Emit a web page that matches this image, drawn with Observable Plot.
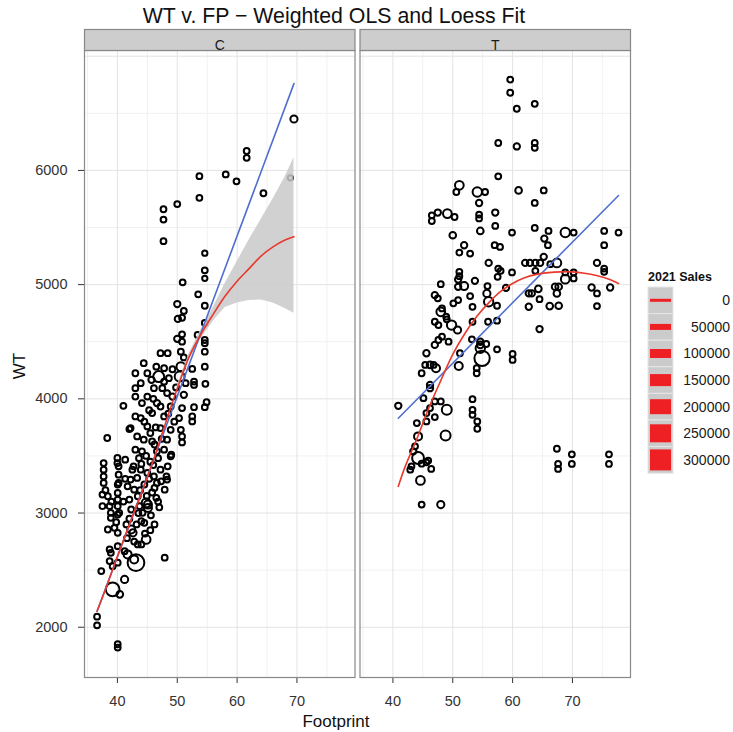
<!DOCTYPE html>
<html><head><meta charset="utf-8">
<script src="https://cdn.jsdelivr.net/npm/d3@7"></script>
<script src="https://cdn.jsdelivr.net/npm/@observablehq/plot@0.6"></script>
<style>
body{margin:0;background:#fff;font-family:"Liberation Sans",Arial,sans-serif;}
#wrap{position:relative;width:733px;height:732px;overflow:hidden;}
#wrap>svg{position:absolute;left:0;top:0;}
</style></head><body><div id="wrap"></div>
<script>
// ---------- data ----------
const panels = ["C", "T"];
const xTicks = [40, 50, 60, 70];
const yTicks = [2000, 3000, 4000, 5000, 6000];
const xMinor = [35, 45, 55, 65, 75];
const yMajorGrid = [2000, 3000, 4000, 5000, 6000, 7000];
const yMinorGrid = [2500, 3500, 4500, 5500, 6500];
const salesBreaks = [0, 50000, 100000, 150000, 200000, 250000, 300000];

// [Footprint, WT, 2021 Sales]
const cPoints = [
[69.5,6450,20000],[61.6,6170,8000],[61.6,6110,8000],[53.7,5950,8000],[58.1,5965,8000],[59.9,5905,8000],
[68.9,5935,5000],[64.4,5800,8000],[50.0,5705,8000],[53.7,5760,8000],[47.7,5660,8000],[47.7,5570,8000],
[47.7,5380,8000],[54.6,5275,5000],[54.6,5125,8000],[54.6,5055,5000],[50.9,5020,8000],[53.5,4915,8000],
[50.0,4830,12000],[51.1,4770,8000],[54.6,4815,8000],[50.8,4710,8000],[50.1,4700,12000],[54.6,4665,8000],
[50.8,4565,8000],[53.4,4560,8000],[50.0,4525,12000],[54.6,4515,8000],[54.6,4487,8000],[50.8,4500,8000],
[54.6,4413,8000],[47.2,4400,8000],[48.4,4400,8000],[50.6,4413,8000],[51.1,4363,8000],[44.4,4312,8000],
[54.6,4282,8000],[46.5,4282,8000],[47.8,4268,8000],[49.2,4259,8000],[50.6,4282,40000],[52.5,4262,8000],
[43.0,4224,8000],[45.0,4224,8000],[46.9,4195,80000],[50.4,4195,60000],[48.6,4181,8000],[45.7,4166,12000],
[51.4,4137,8000],[52.8,4151,8000],[52.8,4122,8000],[54.7,4131,8000],[43.0,4093,8000],[43.9,4137,8000],
[46.1,4093,8000],[47.5,4093,8000],[45.0,4020,8000],[48.3,4050,8000],[49.2,4020,12000],[51.1,4035,12000],
[43.0,4020,8000],[41.0,3939,8000],[44.1,3963,8000],[46.6,3963,12000],[47.2,3933,8000],[48.9,3933,8000],
[50.8,3919,8000],[52.8,3927,8000],[54.6,3927,8000],[54.9,3971,8000],[43.0,3846,8000],[43.9,3832,8000],
[45.8,3875,8000],[47.8,3846,8000],[50.3,3832,8000],[52.5,3846,8000],[52.5,3802,8000],[42.2,3744,8000],
[45.0,3758,8000],[47.2,3744,8000],[48.9,3729,8000],[50.6,3729,8000],[50.8,3671,8000],[50.8,3618,8000],
[38.3,3657,8000],[43.3,3671,8000],[44.4,3642,8000],[45.8,3627,8000],[48.3,3642,8000],[43.0,3555,8000],
[44.1,3540,8000],[46.6,3540,8000],[47.8,3555,8000],[48.9,3497,8000],[40.0,3482,8000],[41.3,3467,8000],
[37.7,3438,8000],[37.7,3380,8000],[37.7,3321,8000],[37.7,3264,8000],[40.2,3409,8000],[40.2,3336,8000],
[40.2,3264,8000],[42.7,3409,8000],[43.9,3380,8000],[45.0,3351,8000],[46.1,3321,8000],[47.2,3380,8000],
[48.3,3293,8000],[42.2,3293,8000],[43.3,3307,8000],[46.6,3264,8000],[40.0,3438,8000],[42.0,3735,8000],
[37.5,3162,8000],[38.4,3147,8000],[37.5,3060,8000],[38.7,3060,8000],[40.05,3249,8000],[40.05,3176,8000],
[40.05,3118,8000],[40.05,3060,8000],[40.3,3002,8000],[41.7,3234,8000],[42.8,3205,8000],[42.0,3118,8000],
[43.4,3147,8000],[43.7,3060,8000],[42.3,3031,8000],[44.2,3002,8000],[44.8,3089,40000],[46.2,3220,8000],
[47.3,3278,8000],[46.5,3133,8000],[47.9,3205,8000],[48.2,3321,8000],[48.4,3409,8000],[49.0,3511,8000],
[45.1,3074,30000],[45.1,3045,30000],[38.9,3002,8000],[40.05,2987,8000],[38.9,2958,8000],[38.4,2856,8000],
[39.5,2871,8000],[40.05,2827,8000],[42.3,2856,30000],[42.6,2827,20000],[44.0,2928,8000],[44.5,2914,8000],
[44.8,2769,40000],[43.4,2725,8000],[44.0,2725,8000],[38.7,2681,8000],[40.05,2710,8000],[41.2,2666,8000],
[38.9,2652,8000],[38.7,2579,8000],[41.7,2638,30000],[42.8,2594,30000],[43.1,2565,250000],[47.9,2609,8000],
[37.3,2492,8000],[39.2,2535,8000],[40.05,2565,8000],[41.2,2419,20000],[39.2,2332,150000],[40.4,2288,15000],
[36.6,2093,8000],[36.6,2017,8000],[40.05,1851,8000],[40.05,1822,8000],
[44.5,3800,8000],[45.5,3700,8000],[46.2,3600,8000],[44.8,3500,8000],[45.5,3450,8000],[46.0,3420,8000],
[44.0,3430,8000],[45.3,3300,8000],[44.5,3250,8000],[43.8,3200,8000],[45.8,3180,8000],[44.9,3150,8000],
[46.8,3100,8000],[43.5,3000,8000],[45.6,2980,8000],[46.2,2900,8000],[45.5,2850,8000],[44.6,2820,8000],
[43.2,2900,8000],[42.0,2950,8000],[41.5,2900,8000],[41.0,3100,8000],[41.3,3300,8000],[42.5,3380,8000],
[43.6,3480,8000],[46.8,3480,8000],[47.4,3650,8000],[46.4,3750,8000],[45.3,3900,8000],[46.0,4000,8000],
[47.8,4150,8000],[49.8,4100,8000],[48.5,3870,8000],[49.5,3800,8000],[47.0,3050,8000],[42.8,2750,8000],
[41.6,2780,8000],[39.8,2920,8000],[39.0,3100,8000],[38.0,3200,8000]
];

const tPoints = [
[59.6,6795,8000],[59.6,6680,8000],[63.7,6583,8000],[60.7,6540,8000],[57.6,6240,8000],[60.7,6210,12000],
[63.7,6240,8000],[63.7,6198,8000],[57.6,5948,8000],[51.1,5870,40000],[50.6,5811,8000],[54.1,5811,50000],
[55.4,5811,8000],[61.0,5825,15000],[65.2,5825,8000],[54.4,5715,12000],[63.7,5715,8000],[46.5,5607,8000],
[46.5,5557,8000],[47.5,5631,12000],[49.1,5622,40000],[50.3,5592,8000],[54.4,5613,8000],[54.4,5580,8000],
[57.1,5631,12000],[57.1,5514,8000],[54.6,5470,15000],[50.0,5432,15000],[59.9,5456,8000],[63.7,5496,8000],
[66.0,5470,8000],[68.8,5456,50000],[70.2,5456,8000],[75.3,5470,8000],[77.7,5456,8000],[65.3,5403,12000],
[51.9,5345,12000],[57.0,5345,8000],[57.9,5330,8000],[65.9,5345,8000],[75.3,5345,8000],[51.1,5281,8000],
[52.9,5272,8000],[65.2,5243,12000],[56.0,5190,12000],[62.1,5190,12000],[62.9,5190,12000],[63.8,5190,12000],
[64.6,5190,12000],[67.4,5190,40000],[74.1,5190,12000],[51.1,5112,8000],[51.1,5074,8000],[57.6,5141,8000],
[58.0,5121,8000],[59.9,5107,8000],[63.8,5121,8000],[66.3,5179,8000],[68.8,5107,8000],[70.2,5107,8000],
[75.3,5141,8000],[75.3,5112,8000],[48.0,5004,8000],[50.9,5045,12000],[53.7,5033,12000],[57.5,5068,8000],
[68.8,5048,40000],[70.2,5054,8000],[50.9,4981,12000],[51.9,4987,30000],[55.8,4987,8000],[58.9,4972,12000],
[64.3,4963,15000],[67.1,4981,15000],[67.7,4981,15000],[73.2,4975,12000],[76.3,4975,12000],[74.1,4923,8000],
[47.0,4908,12000],[47.5,4880,8000],[50.9,4865,8000],[52.9,4900,8000],[55.7,4923,20000],[56.0,4850,50000],
[50.1,4836,8000],[62.7,4923,12000],[63.2,4923,12000],[64.5,4873,8000],[67.4,4923,15000],[48.2,4792,8000],
[53.3,4806,8000],[57.4,4815,8000],[62.7,4806,12000],[66.2,4812,15000],[67.7,4815,15000],[74.1,4812,8000],
[64.5,4611,12000],[48.0,4762,40000],[48.9,4719,8000],[49.0,4696,8000],[47.0,4675,8000],[47.6,4646,8000],
[49.8,4646,50000],[50.8,4603,20000],[53.3,4675,8000],[55.9,4675,8000],[57.4,4684,8000],[53.2,4521,8000],
[54.6,4500,12000],[54.6,4472,15000],[55.6,4480,8000],[54.6,4443,50000],[54.9,4355,200000],[54.0,4268,8000],
[54.0,4224,8000],[48.2,4544,8000],[47.6,4515,8000],[47.0,4472,12000],[49.3,4500,8000],[45.6,4399,12000],
[46.2,4297,15000],[46.8,4297,8000],[45.4,4297,8000],[44.8,4224,8000],[47.2,4268,30000],[51.2,4399,8000],
[51.0,4288,30000],[57.4,4434,8000],[60.0,4393,8000],[60.0,4341,8000],[46.2,4122,12000],[46.2,4093,12000],
[40.9,3939,12000],[45.1,4006,8000],[47.0,3977,8000],[48.0,3977,8000],[49.0,3904,60000],[45.6,3875,8000],
[46.2,3919,8000],[47.0,3840,8000],[44.0,3788,8000],[45.6,3802,8000],[44.2,3671,30000],[48.8,3679,60000],
[43.7,3584,8000],[43.4,3540,12000],[44.2,3482,100000],[44.8,3432,8000],[45.6,3444,8000],[45.9,3459,8000],
[43.1,3409,8000],[42.9,3380,8000],[46.4,3386,8000],[44.6,3286,40000],[44.8,3074,8000],[48.0,3074,20000],
[53.3,3997,8000],[53.3,3904,8000],[53.3,3860,8000],[54.1,3802,8000],[54.1,3738,8000],[67.4,3563,8000],
[69.9,3514,8000],[67.6,3430,8000],[67.6,3386,8000],[69.9,3430,8000],[76.1,3514,8000],[76.1,3430,8000]
];

// weighted OLS fits (end points)
const cOlsFp = [36.6, 69.5];
const cOlsWt = [2140, 6760];
const tOlsFp = [40.9, 77.7];
const tOlsWt = [3830, 5780];

// loess fits
const cLoessFp = [36.6, 38, 40, 42, 44, 46, 48, 50, 52, 54, 56, 58, 60, 62, 64, 66, 68, 69.5];
const cLoessWt = [2140, 2330, 2620, 2900, 3170, 3460, 3780, 4090, 4370, 4570, 4740, 4900, 5030, 5140, 5250, 5330, 5390, 5420];
const tLoessFp = [40.9, 42, 44, 46, 48, 50, 52, 54, 56, 58, 60, 62, 64, 66, 68, 70, 72, 74, 76, 77.7];
const tLoessWt = [3234, 3400, 3650, 3920, 4160, 4390, 4570, 4720, 4840, 4940, 5010, 5060, 5090, 5105, 5112, 5112, 5100, 5080, 5050, 5010];

// loess confidence band (C)
const cBandFp = [50, 52, 54, 55, 56, 58, 60, 62, 64, 66, 68, 69.5];
const cBandHi = [4120, 4400, 4610, 4700, 4800, 5010, 5200, 5390, 5570, 5750, 5940, 6110];
const cBandLo = [4060, 4340, 4530, 4600, 4680, 4800, 4840, 4860, 4865, 4840, 4790, 4750];

// ---------- tables ----------
const toPts = (type, arr) => arr.map(([fp, wt, sales]) => ({type, fp, wt, sales}));
const points = [...toPts("C", cPoints), ...toPts("T", tPoints)];
const pairs = (type, xs, ys) => xs.map((fp, i) => ({type, fp, wt: ys[i]}));
const ols = [...pairs("C", cOlsFp, cOlsWt), ...pairs("T", tOlsFp, tOlsWt)];
const loess = [...pairs("C", cLoessFp, cLoessWt), ...pairs("T", tLoessFp, tLoessWt)];
const band = cBandFp.map((fp, i) => ({type: "C", fp, lo: cBandLo[i], hi: cBandHi[i]}));

// ---------- layout ----------
const W = 733, H = 732, mL = 84, mR = 103, mT = 50, mB = 55;
const panelH = H - mT - mB;
const FONT = "'Liberation Sans', Arial, sans-serif";

const chart = Plot.plot({
  width: W, height: H,
  marginLeft: mL, marginRight: mR, marginTop: mT, marginBottom: mB,
  style: {fontFamily: FONT, fontSize: "14.5px", color: "#333", background: "transparent"},
  fx: {domain: panels, paddingInner: 5 / 275.5, paddingOuter: 0, round: false, axis: null, label: null},
  x: {domain: [34.5, 79.7], ticks: xTicks, tickSize: 6, tickPadding: 12, label: null},
  y: {domain: [1560, 7050], ticks: yTicks, tickFormat: "d", tickSize: 6, tickPadding: 11, label: null},
  r: {type: "sqrt", domain: [0, 300000], range: [1.7, 9]},
  marks: [
    Plot.ruleY(yMinorGrid, {stroke: "#f1f1f1", strokeWidth: 1}),
    Plot.ruleX(xMinor, {stroke: "#f1f1f1", strokeWidth: 1}),
    Plot.ruleY(yMajorGrid, {stroke: "#e3e3e3", strokeWidth: 1}),
    Plot.ruleX(xTicks, {stroke: "#e3e3e3", strokeWidth: 1}),
    Plot.dot(points, {x: "fp", y: "wt", r: "sales", fx: "type", stroke: "#000", strokeWidth: 2, fill: "none"}),
    Plot.areaY(band, {x: "fp", y1: "lo", y2: "hi", fx: "type", fill: "#c9c9c9", fillOpacity: 0.85}),
    Plot.line(ols, {x: "fp", y: "wt", fx: "type", stroke: "#4f6fcf", strokeWidth: 1.6}),
    Plot.line(loess, {x: "fp", y: "wt", fx: "type", stroke: "#e8392c", strokeWidth: 1.6, curve: "catmull-rom"}),
    Plot.frame({stroke: "#888", strokeWidth: 1.2}),
    Plot.frame({fill: "#cdcdcd", stroke: "#888", strokeWidth: 1.2, insetTop: -21, insetBottom: panelH}),
    Plot.text(panels, {fx: d => d, text: d => d, frameAnchor: "top", dy: -10.5, fontSize: 14, fill: "#1a1a1a"})
  ]
});
const wrap = document.getElementById("wrap");
wrap.appendChild(chart);

// ---------- overlay: titles and legend ----------
const ov = d3.select(wrap).append("svg")
  .attr("width", W).attr("height", H)
  .style("font-family", FONT).style("pointer-events", "none");

ov.append("text").attr("x", 334).attr("y", 23).attr("text-anchor", "middle")
  .attr("font-size", 21.3).attr("fill", "#111").text("WT v. FP − Weighted OLS and Loess Fit");
ov.append("text").attr("x", 336).attr("y", 727).attr("text-anchor", "middle")
  .attr("font-size", 17).attr("fill", "#111").text("Footprint");
ov.append("text").attr("transform", "translate(25,366) rotate(-90)").attr("text-anchor", "middle")
  .attr("font-size", 17).attr("fill", "#111").text("WT");

// legend
const lx = 648, ly = 287, kw = 25, kh = 26.6;
const thick = d3.scaleLinear().domain([0, 300000]).range([3, 21]);
ov.append("text").attr("x", lx).attr("y", 281).attr("font-size", 12.5).attr("font-weight", "bold")
  .attr("fill", "#111").text("2021 Sales");
const g = ov.append("g");
salesBreaks.forEach((b, i) => {
  const y0 = ly + i * kh;
  g.append("rect").attr("x", lx).attr("y", y0).attr("width", kw).attr("height", kh)
    .attr("fill", "#cbcbcb").attr("stroke", "#e6e6e6").attr("stroke-width", 1);
  g.append("rect").attr("x", lx + 2).attr("y", y0 + kh / 2 - thick(b) / 2).attr("width", kw - 4)
    .attr("height", thick(b)).attr("fill", "#ee2024");
  g.append("text").attr("x", 730).attr("y", y0 + kh / 2).attr("dy", "0.35em").attr("text-anchor", "end")
    .attr("font-size", 14).attr("fill", "#1a1a1a").text(d3.format("d")(b));
});
</script></body></html>
